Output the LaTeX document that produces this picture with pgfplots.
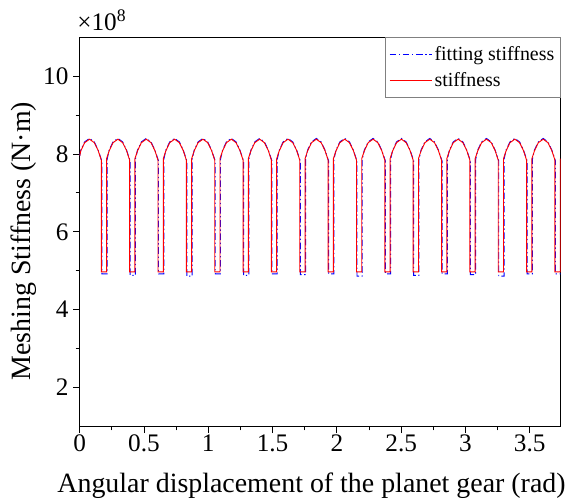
\documentclass[border=0pt]{standalone}
\usepackage{fontspec}
\setmainfont{Liberation Serif}
\usepackage{pgfplots}
\pgfplotsset{compat=1.18}
\begin{document}
\begin{tikzpicture}
\begin{axis}[
  name=ax,
  scale only axis,
  width=362pt, height=293pt,
  xmin=0, xmax=3.74, ymin=1, ymax=11,
  xtick={0,0.5,...,3.5}, ytick={2,4,...,10},
  minor x tick num=1, minor y tick num=1,
  tick align=outside, xtick pos=left, ytick pos=left,
  major tick length=5pt, minor tick length=3pt,
  tick style={black, line width=0.6pt},
  axis line style={line width=0.8pt},
  /pgf/number format/assume math mode=true,
  ticklabel style={font=\fontsize{19}{21}\selectfont},
  xticklabel style={yshift=2pt},
  label style={font=\fontsize{21}{24}\selectfont},
  xlabel={Angular displacement of the planet gear (rad)},
  ylabel={Meshing Stiffness (N·m)},
  xlabel style={at={(ticklabel cs:0.482)}, yshift=-9pt},
  ylabel style={at={(ticklabel cs:0.476)}, yshift=-2pt},
  legend style={at={(1,1)}, anchor=north east, draw=gray, line width=0.5pt,
    font=\fontsize{15}{17}\selectfont, inner xsep=3pt, inner ysep=5pt,
    row sep=5pt, nodes={inner sep=1.5pt}},
  legend cell align=left,
  legend image code/.code={\draw (0pt,0pt) -- (32pt,0pt);},
]
% legend entries
\addlegendimage{blue, line width=0.8pt, dash pattern=on 5pt off 2pt on 1pt off 2pt}
\addlegendentry{fitting stiffness}
\addlegendimage{red, line width=0.8pt}
\addlegendentry{stiffness}
% fitting stiffness (x1e8)
\addplot[forget plot, blue, line width=0.7pt, dash pattern=on 5pt off 2pt on 1pt off 2pt] coordinates {
(0,7.95)(0.0085,8.10)(0.0385,8.31)(0.0765,8.40)(0.1135,8.31)(0.1435,8.10)(0.1720,7.82)(0.1720,4.92)(0.2130,4.92)
(0.2130,7.86)(0.2290,8.10)(0.2590,8.31)(0.2970,8.40)(0.3340,8.31)(0.3640,8.10)(0.3925,7.82)(0.3925,4.88)(0.4335,4.88)
(0.4335,7.86)(0.4495,8.10)(0.4795,8.31)(0.5175,8.40)(0.5545,8.31)(0.5845,8.10)(0.6130,7.82)(0.6130,4.92)(0.6540,4.92)
(0.6540,7.86)(0.6700,8.10)(0.7000,8.31)(0.7380,8.40)(0.7750,8.31)(0.8050,8.10)(0.8335,7.82)(0.8335,4.86)(0.8745,4.86)
(0.8745,7.86)(0.8905,8.10)(0.9205,8.31)(0.9585,8.40)(0.9955,8.31)(1.0255,8.10)(1.0540,7.82)(1.0540,4.92)(1.0950,4.92)
(1.0950,7.86)(1.1110,8.10)(1.1410,8.31)(1.1790,8.40)(1.2160,8.31)(1.2460,8.10)(1.2745,7.82)(1.2745,4.88)(1.3155,4.88)
(1.3155,7.86)(1.3315,8.10)(1.3615,8.31)(1.3995,8.40)(1.4365,8.31)(1.4665,8.10)(1.4950,7.82)(1.4950,4.92)(1.5360,4.92)
(1.5360,7.86)(1.5520,8.10)(1.5820,8.31)(1.6200,8.40)(1.6570,8.31)(1.6870,8.10)(1.7155,7.82)(1.7155,4.90)(1.7565,4.90)
(1.7565,7.86)(1.7725,8.10)(1.8025,8.31)(1.8405,8.40)(1.8775,8.31)(1.9075,8.10)(1.9360,7.82)(1.9360,4.92)(1.9770,4.92)
(1.9770,7.86)(1.9930,8.10)(2.0230,8.31)(2.0610,8.40)(2.0980,8.31)(2.1280,8.10)(2.1565,7.82)(2.1565,4.86)(2.1975,4.86)
(2.1975,7.86)(2.2135,8.10)(2.2435,8.31)(2.2815,8.40)(2.3185,8.31)(2.3485,8.10)(2.3770,7.82)(2.3770,4.92)(2.4180,4.92)
(2.4180,7.86)(2.4340,8.10)(2.4640,8.31)(2.5020,8.40)(2.5390,8.31)(2.5690,8.10)(2.5975,7.82)(2.5975,4.88)(2.6385,4.88)
(2.6385,7.86)(2.6545,8.10)(2.6845,8.31)(2.7225,8.40)(2.7595,8.31)(2.7895,8.10)(2.8180,7.82)(2.8180,4.92)(2.8590,4.92)
(2.8590,7.86)(2.8750,8.10)(2.9050,8.31)(2.9430,8.40)(2.9800,8.31)(3.0100,8.10)(3.0385,7.82)(3.0385,4.90)(3.0795,4.90)
(3.0795,7.86)(3.0955,8.10)(3.1255,8.31)(3.1635,8.40)(3.2005,8.31)(3.2305,8.10)(3.2590,7.82)(3.2590,4.86)(3.3000,4.86)
(3.3000,7.86)(3.3160,8.10)(3.3460,8.31)(3.3840,8.40)(3.4210,8.31)(3.4510,8.10)(3.4795,7.82)(3.4795,4.92)(3.5205,4.92)
(3.5205,7.86)(3.5365,8.10)(3.5665,8.31)(3.6045,8.40)(3.6415,8.31)(3.6715,8.10)(3.7000,7.82)(3.7000,4.92)(3.7410,4.92)
};
% stiffness (x1e8)
\addplot[forget plot, red, line width=0.7pt] coordinates {
(0,7.95)(0.0085,8.08)(0.0385,8.29)(0.0765,8.38)(0.1135,8.29)(0.1435,8.09)(0.1680,7.84)(0.1680,4.97)(0.2090,4.97)
(0.2090,7.88)(0.2290,8.08)(0.2590,8.29)(0.2970,8.38)(0.3340,8.29)(0.3640,8.09)(0.3885,7.84)(0.3885,4.97)(0.4295,4.97)
(0.4295,7.88)(0.4495,8.08)(0.4795,8.29)(0.5175,8.38)(0.5545,8.29)(0.5845,8.09)(0.6090,7.84)(0.6090,4.97)(0.6500,4.97)
(0.6500,7.88)(0.6700,8.08)(0.7000,8.29)(0.7380,8.38)(0.7750,8.29)(0.8050,8.09)(0.8295,7.84)(0.8295,4.97)(0.8705,4.97)
(0.8705,7.88)(0.8905,8.08)(0.9205,8.29)(0.9585,8.38)(0.9955,8.29)(1.0255,8.09)(1.0500,7.84)(1.0500,4.97)(1.0910,4.97)
(1.0910,7.88)(1.1110,8.08)(1.1410,8.29)(1.1790,8.38)(1.2160,8.29)(1.2460,8.09)(1.2705,7.84)(1.2705,4.97)(1.3115,4.97)
(1.3115,7.88)(1.3315,8.08)(1.3615,8.29)(1.3995,8.38)(1.4365,8.29)(1.4665,8.09)(1.4910,7.84)(1.4910,4.97)(1.5320,4.97)
(1.5320,7.88)(1.5520,8.08)(1.5820,8.29)(1.6200,8.38)(1.6570,8.29)(1.6870,8.09)(1.7115,7.84)(1.7115,4.97)(1.7525,4.97)
(1.7525,7.88)(1.7725,8.08)(1.8025,8.29)(1.8405,8.38)(1.8775,8.29)(1.9075,8.09)(1.9320,7.84)(1.9320,4.97)(1.9730,4.97)
(1.9730,7.88)(1.9930,8.08)(2.0230,8.29)(2.0610,8.38)(2.0980,8.29)(2.1280,8.09)(2.1525,7.84)(2.1525,4.97)(2.1935,4.97)
(2.1935,7.88)(2.2135,8.08)(2.2435,8.29)(2.2815,8.38)(2.3185,8.29)(2.3485,8.09)(2.3730,7.84)(2.3730,4.97)(2.4140,4.97)
(2.4140,7.88)(2.4340,8.08)(2.4640,8.29)(2.5020,8.38)(2.5390,8.29)(2.5690,8.09)(2.5935,7.84)(2.5935,4.97)(2.6345,4.97)
(2.6345,7.88)(2.6545,8.08)(2.6845,8.29)(2.7225,8.38)(2.7595,8.29)(2.7895,8.09)(2.8140,7.84)(2.8140,4.97)(2.8550,4.97)
(2.8550,7.88)(2.8750,8.08)(2.9050,8.29)(2.9430,8.38)(2.9800,8.29)(3.0100,8.09)(3.0345,7.84)(3.0345,4.97)(3.0755,4.97)
(3.0755,7.88)(3.0955,8.08)(3.1255,8.29)(3.1635,8.38)(3.2005,8.29)(3.2305,8.09)(3.2550,7.84)(3.2550,4.97)(3.2960,4.97)
(3.2960,7.88)(3.3160,8.08)(3.3460,8.29)(3.3840,8.38)(3.4210,8.29)(3.4510,8.09)(3.4755,7.84)(3.4755,4.97)(3.5165,4.97)
(3.5165,7.88)(3.5365,8.08)(3.5665,8.29)(3.6045,8.38)(3.6415,8.29)(3.6715,8.09)(3.6960,7.84)(3.6960,4.97)(3.7370,4.97)
(3.7370,7.88)
};
\end{axis}
% scale factor of the y axis
\node[anchor=south west, inner sep=0pt, font=\fontsize{19}{21}\selectfont]
  at ([xshift=-2pt,yshift=5pt]ax.north west) {×10\textsuperscript{8}};
% page margins as in the reference
\path ([xshift=-60pt,yshift=-54pt]ax.south west) rectangle ([xshift=5pt,yshift=28pt]ax.north east);
\end{tikzpicture}
\end{document}
